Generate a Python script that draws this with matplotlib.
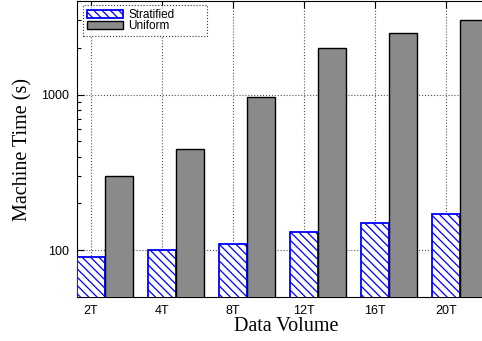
import matplotlib
matplotlib.use('Agg')
import matplotlib.pyplot as plt
import numpy as np
from matplotlib.ticker import LogLocator, NullFormatter, FixedLocator

volumes = ['2T', '4T', '8T', '12T', '16T', '20T']
stratified = [90, 100, 110, 130, 150, 170]
uniform = [300, 450, 960, 2000, 2500, 3000]

plt.rcParams['hatch.linewidth'] = 0.9
plt.rcParams['hatch.color'] = 'blue'

fig = plt.figure(figsize=(4.82, 3.41), dpi=100)
ax = fig.add_axes([0.1598, 0.129, 0.8687, 0.868])

w = 0.394
x = np.arange(len(volumes))
ax.bar(x, stratified, width=w, facecolor='white', edgecolor='blue',
       hatch='\\\\\\\\', linewidth=1.3, label='Stratified', zorder=3)
ax.bar(x + w, uniform, width=w, facecolor='#8a8a8a', edgecolor='black',
       linewidth=1.0, label='Uniform', zorder=3)

ax.set_yscale('log')
ax.set_ylim(50, 4000)
ax.set_xlim(-w / 2, 5.7)
ax.set_xticks(x)
ax.set_xticklabels(volumes, fontsize=9, family='Liberation Sans')
ax.yaxis.set_major_locator(FixedLocator([100, 1000]))
ax.yaxis.set_minor_locator(LogLocator(base=10, subs=np.arange(2, 10)))
ax.yaxis.set_minor_formatter(NullFormatter())
ax.set_yticklabels(['100', '1000'], fontsize=9, family='Liberation Sans')
ax.tick_params(which='both', direction='in', top=True, right=True)
ax.tick_params(which='major', length=5, width=0.8)
ax.tick_params(which='minor', length=3, width=0.8)
ax.tick_params(axis='x', pad=6)
ax.tick_params(axis='y', pad=6)

ax.grid(True, which='major', linestyle=':', color='#555555', linewidth=0.8, zorder=0)
ax.set_axisbelow(True)

ax.set_xlabel('Data Volume', fontsize=14.5, family='Liberation Serif', labelpad=0)
ax.set_ylabel('Machine Time (s)', fontsize=14.5, family='Liberation Serif', labelpad=6)

leg = ax.legend(loc='upper left', bbox_to_anchor=(0.0143, 0.0, 0.296, 0.9865),
                mode='expand',
                prop={'family': 'Liberation Sans', 'size': 8.5},
                fancybox=False, handlelength=3.0, handleheight=0.6,
                borderpad=0.35, labelspacing=-0.1, handletextpad=0.5,
                borderaxespad=0.0)
frame = leg.get_frame()
frame.set_linestyle(':')
frame.set_edgecolor('black')
frame.set_linewidth(0.8)

fig.savefig('out.png', dpi=100)
